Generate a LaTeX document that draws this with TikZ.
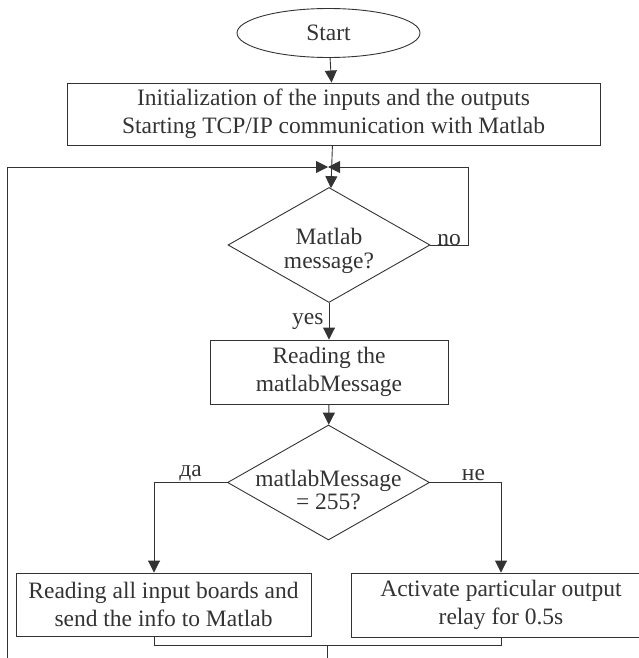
\documentclass[tikz,border=0pt]{standalone}
\usepackage{fontspec}
\setmainfont{Liberation Serif}
\usepackage{xcolor}
\usepackage{tikz}
\usetikzlibrary{shapes.geometric,arrows.meta,positioning,calc}
\definecolor{fcline}{rgb}{0.20,0.20,0.20}

\begin{document}
\begin{tikzpicture}[
  x=1pt, y=-1pt,
  font=\fontsize{23.5}{27.5}\selectfont,
  line width=0.9pt, draw=fcline, text=fcline,
  term/.style={draw=fcline, ellipse, minimum width=183pt, minimum height=49pt,
               inner sep=0pt},
  proc/.style={draw=fcline, rectangle, align=center, inner sep=0pt},
  ask/.style={draw=fcline, diamond, aspect=1.75, inner sep=0pt,
              minimum width=202pt, minimum height=115pt},
  asktxt/.style={align=center, inner sep=0pt,
                 font=\fontsize{23.5}{23.5}\selectfont},
  flow/.style={-{Triangle[length=12pt,width=12pt]}, fcline},
  lbl/.style={inner sep=1pt}
]
\useasboundingbox (0,0) rectangle (638,658);

% --- main column ---
\node[term] (start) at (328.5,33) {Start};
\node[proc, minimum width=533pt, minimum height=62pt] (init) at (333.5,114)
  {Initialization of the inputs and the outputs\\
   Starting TCP/IP communication with Matlab};
\node[ask] (msg) at (329,245) {};
\node[asktxt] (msgtxt) at (329,251) {Matlab\\message?};
\node[proc, minimum width=238pt, minimum height=64pt] (readmsg) at (329,372)
  {Reading the\\matlabMessage};
\node[ask] (check) at (328.5,482.5) {};
\node[asktxt] (checktxt) at (328.5,490) {matlabMessage\\= 255?};

% --- two branches ---
\node[proc, minimum width=295pt, minimum height=63pt] (readin) at (163.5,604.5)
  {Reading all input boards and\\send the info to Matlab};
\node[proc, minimum width=300pt, minimum height=64pt] (relay) at (501,605)
  {Activate particular output\\relay for 0.5s};

% --- helper points ---
\coordinate (join) at (328,167);
\coordinate (loopR) at (468,167);
\coordinate (loopL) at (7,167);
\coordinate (daturn) at (154,482.5);
\coordinate (neturn) at (501,482.5);
\coordinate (mergeL) at (154,645);
\coordinate (mergeR) at (501,645);
\coordinate (merge) at (327,645);
\coordinate (loopB) at (327,680);

% --- connectors ---
\draw[flow] (start) -- (init);
\draw[flow] (init) -- (msg);
\draw[flow] (msg.east) -| (loopR) -- (join);
\node[lbl, anchor=south] (no) at (449,247) {no};
\draw[flow] (msg) -- node[lbl, left, xshift=-4pt] (yes) {yes} (readmsg);
\draw[flow] (readmsg) -- (check);

\draw[flow] (check.west) -- node[lbl, above] (da) {да} (daturn)
  -- (daturn |- readin.north);
\draw[flow] (check.east) -- node[lbl, above, xshift=8pt] (ne) {не} (neturn)
  -- (relay.north);

\draw (daturn |- readin.south) -- (mergeL) -- (mergeR) -- (relay.south);
\draw[flow] (merge) -- (loopB) -| (loopL) -- (join);

\end{tikzpicture}
\end{document}
